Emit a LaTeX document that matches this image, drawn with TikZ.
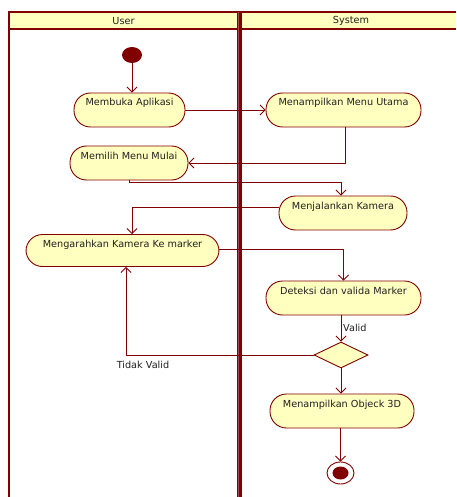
\documentclass[tikz,border=0pt]{standalone}
\usepackage{fontspec}
\setmainfont{DejaVu Sans}
\usetikzlibrary{arrows.meta,shapes.geometric}
\definecolor{lane}{HTML}{800000}
\definecolor{fillY}{HTML}{FFFFC0}
\definecolor{txt}{HTML}{202020}
\begin{document}
\begin{tikzpicture}[x=1pt,y=-1pt,
  font=\fontsize{9.7}{11}\selectfont, text=txt,
  act/.style={draw=lane, line width=0.9pt, fill=fillY, rounded corners=16.5pt,
    minimum height=34pt, text height=9.5pt, text depth=17.5pt, inner ysep=3.5pt, inner xsep=2pt},
  flow/.style={draw=lane, line width=0.8pt, -{Straight Barb[length=5pt,width=10pt]}},
  lanebd/.style={draw=lane, line width=2pt}]
\useasboundingbox (0,0) rectangle (456,497);
% swimlanes
\fill[fillY] (9,12) rectangle (456,29);
\draw[lanebd] (9,497) -- (9,12) -- (456,12);
\draw[draw=lane, line width=1.5pt] (9,29) -- (456,29);
\draw[draw=lane, line width=5pt] (239,12) -- (239,497);
\draw[draw=lane!70!white, line width=0.8pt] (238,12) -- (238,497);
\node (hu) at (123.5,21) {User};
\node (hs) at (351,21) {System};
% activities
\node[ellipse, fill=lane, minimum width=20pt, minimum height=16pt, inner sep=0pt] (start) at (132,55) {};
\node[act, minimum width=111pt] (n1) at (129.5,110) {Membuka Aplikasi};
\node[act, minimum width=155pt] (n2) at (343.5,110) {Menampilkan Menu Utama};
\node[act, minimum width=118pt] (n3) at (129,163) {Memilih Menu Mulai};
\node[act, minimum width=128pt] (n4) at (343,213) {Menjalankan Kamera};
\node[act, minimum width=193pt, minimum height=32pt, text depth=15.5pt] (n5) at (122.5,250.5) {Mengarahkan Kamera Ke marker};
\node[act, minimum width=155pt] (n6) at (343.5,298) {Deteksi dan valida Marker};
\node[diamond, draw=lane, line width=0.9pt, fill=fillY, minimum width=54pt, minimum height=26pt, inner sep=0pt] (d) at (341,355) {};
\node[act, minimum width=144pt] (n7) at (342,411) {Menampilkan Objeck 3D};
\node[ellipse, draw=lane, line width=0.9pt, fill=white, minimum width=27pt, minimum height=22pt, inner sep=0pt] (end) at (340.5,473) {};
\node[ellipse, fill=lane, minimum width=16pt, minimum height=13pt, inner sep=0pt] (endin) at (340.5,473) {};
% flows
\draw[flow] (start.south) -- (start.south |- n1.north);
\draw[flow] (n1.east) -- (n2.west);
\draw[flow] ([xshift=1.5pt]n2.south) |- (n3.east);
\draw[flow] (n3.south) -- ++(0,2) -| ([xshift=-2pt]n4.north);
\draw[flow] ([yshift=6pt]n4.west) -| ([xshift=9.5pt]n5.north);
\draw[flow] ([yshift=1.5pt]n5.east) -| (n6.north);
\draw[flow] (d.north |- n6.south) -- (d.north);
\node[anchor=west, inner sep=1pt] (lv) at (342,328) {Valid};
\draw[flow] (d.west) -| ([xshift=3.5pt]n5.south);
\node[inner sep=1pt] (ltv) at (143,364.5) {Tidak Valid};
\draw[flow] (d.south) -- (d.south |- n7.north);
\draw[flow] (n7.south -| end.north) -- (end.north);
\end{tikzpicture}
\end{document}
